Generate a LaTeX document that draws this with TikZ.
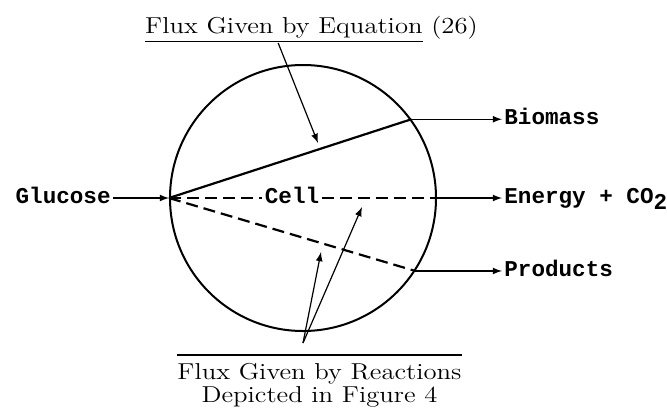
\documentclass[tikz,border=0pt]{standalone}
\usepackage{fontspec}
\newfontfamily\courfont{Liberation Mono}
\newfontfamily\widefont[FakeStretch=1.16]{Latin Modern Roman}
\usetikzlibrary{calc}

\begin{document}
\begin{tikzpicture}[x=25pt,y=25pt,>=latex,
  outlab/.style={font=\courfont\bfseries\fontsize{11.3}{13}\selectfont,inner sep=1pt,text height=1.6ex,text depth=0.4ex},
  flux/.style={->,line width=0.6pt},
  route/.style={line width=1.1pt},
  fluxtxt/.style={font=\widefont\fontsize{11.5}{9}\selectfont}]
  \useasboundingbox (0,0) rectangle (13.34,8.28);
  % the cell
  \node[circle,draw,line width=1pt,minimum size=133pt,inner sep=0] (cell) at (6.06,4.32) {};
  \coordinate (inx) at (2.26,0);
  \coordinate (midx) at (5.84,0);
  \coordinate (outx) at (10.04,0);
  \node[outlab] (cellname) at (cell.180 -| midx) {Cell};
  \node[outlab,anchor=east] (glucose) at (cell.180 -| inx) {Glucose};
  \node[outlab,anchor=west] (biomass) at (cell.36.6 -| outx) {Biomass};
  \node[outlab,anchor=west] (energy) at (cell.0 -| outx) {Energy + CO\raisebox{-0.5ex}{2}};
  \node[outlab,anchor=west] (products) at (cell.-33.6 -| outx) {Products};
  % fluxes inside the cell
  \draw[flux] (glucose.east) -- (cell.180);
  \draw[route] (cell.180) -- (cell.36.6);
  \draw[route,dash pattern=on 6pt off 3pt] (cell.180) -- (cellname.west);
  \draw[route,dash pattern=on 6pt off 3pt] (cellname.east) -- (cell.0);
  \draw[route,dash pattern=on 6pt off 3pt] (cell.180) -- (cell.-33.6);
  \draw[flux] (cell.36.6) -- (biomass.west);
  \draw[flux] (cell.0) -- (energy.west);
  \draw[flux] (cell.-33.6) -- (products.west);
  % labels
  \node[fluxtxt,inner sep=0,anchor=south] (eqlabel) at (6.23,7.42) {\underline{Flux Given by Equation} (26)};
  \coordinate (eqtip) at (6.36,5.42);
  \draw[flux] ($(eqlabel.south west)!0.40!(eqlabel.south east)$) -- (eqtip);
  \node[fluxtxt,align=center,inner xsep=0,inner ysep=4pt,anchor=north] (rxnlabel) at (6.39,1.18) {Flux Given by Reactions\\Depicted in Figure 4};
  \draw[line width=0.6pt] (rxnlabel.north west) -- (rxnlabel.north east);
  \coordinate (rxnfoot) at (6.06,1.42);
  \coordinate (rxntipa) at (6.42,3.24);
  \coordinate (rxntipb) at (7.24,4.14);
  \draw[flux] (rxnfoot) -- (rxntipa);
  \draw[flux] (rxnfoot) -- (rxntipb);
\end{tikzpicture}
\end{document}
